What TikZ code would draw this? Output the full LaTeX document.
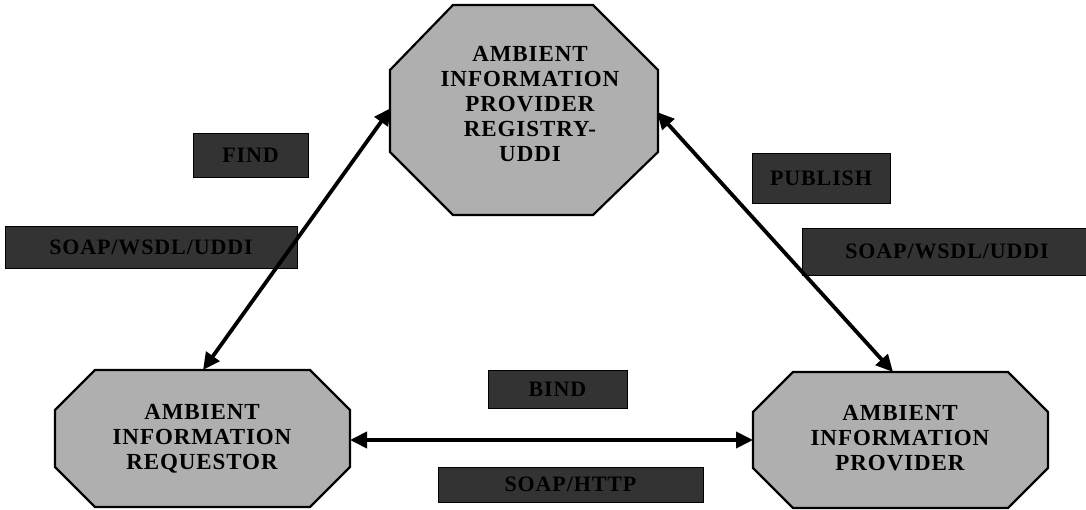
\documentclass[tikz,border=0pt]{standalone}
\usepackage{fontspec}
\setmainfont{Liberation Serif}
\usetikzlibrary{arrows.meta}
\definecolor{octfill}{HTML}{AFAFAF}
\definecolor{tagfill}{HTML}{333333}
\begin{document}
\begin{tikzpicture}[x=1pt,y=-1pt,
  octagon/.style={draw=black, line width=2.2pt, fill=octfill, line join=miter},
  octtext/.style={font=\fontsize{23}{25}\selectfont\bfseries\addfontfeature{LetterSpace=4},
    align=center, text=black, inner sep=0pt},
  tag/.style={fill=tagfill, draw=black, line width=0.6pt, inner sep=0pt,
    font=\fontsize{22}{22}\selectfont\bfseries\addfontfeature{LetterSpace=4}, text=black},
  link/.style={line width=3.8pt,
    {Triangle[length=17pt,width=16pt]}-{Triangle[length=17pt,width=16pt]}}]

\useasboundingbox (0,0) rectangle (1086,510);

% the three services, drawn as octagons
\draw[octagon] (453,5) -- (593,5) -- (658,70) -- (658,152) -- (593,215)
  -- (453,215) -- (390,152) -- (390,70) -- cycle;
\draw[octagon] (95,370) -- (310,370) -- (350,410) -- (350,467) -- (310,507)
  -- (95,507) -- (55,467) -- (55,410) -- cycle;
\draw[octagon] (793,372) -- (1008,372) -- (1048,412) -- (1048,468) -- (1008,508)
  -- (793,508) -- (753,468) -- (753,412) -- cycle;

\node[octtext] (registry) at (530,104)
  {AMBIENT\\INFORMATION\\PROVIDER\\REGISTRY-\\UDDI};
\node[octtext] (requestor) at (202,439)
  {AMBIENT\\INFORMATION\\REQUESTOR};
\node[octtext] (provider) at (900,438)
  {AMBIENT\\INFORMATION\\PROVIDER};

% operation and protocol tags
\node[tag, minimum width=115pt, minimum height=44pt] (find) at (250.5,155) {FIND};
\node[tag, minimum width=292pt, minimum height=42pt] (findproto) at (151,247) {SOAP/WSDL/UDDI};
\node[tag, minimum width=138pt, minimum height=50pt] (publish) at (821,178) {PUBLISH};
\node[tag, minimum width=290pt, minimum height=47pt] (pubproto) at (947,251.5) {SOAP/WSDL/UDDI};
\node[tag, minimum width=139pt, minimum height=38pt] (bind) at (557.5,389) {BIND};
\node[tag, minimum width=265pt, minimum height=35pt] (bindproto) at (570.5,484.5) {SOAP/HTTP};

% connector end points on the octagon borders
\coordinate (regW) at (391,108);
\coordinate (reqN) at (203,370);
\coordinate (regE) at (657,112);
\coordinate (provN) at (893,372);
\coordinate (reqE) at (350,440);
\coordinate (provW) at (753,440);

\draw[link] (reqN) -- (regW);
\draw[link] (regE) -- (provN);
\draw[link] (reqE) -- (provW);
\end{tikzpicture}
\end{document}
